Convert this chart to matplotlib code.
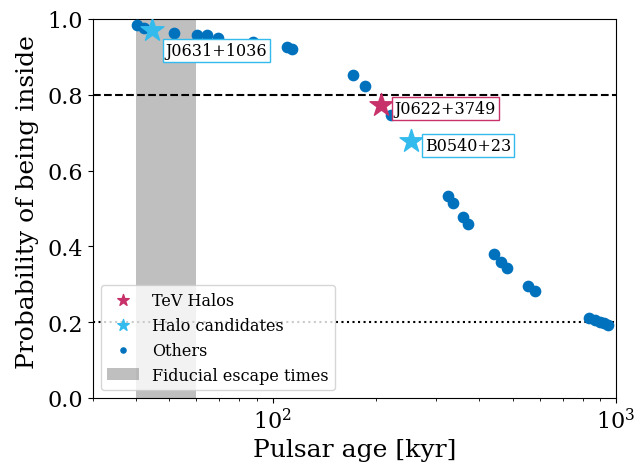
import matplotlib
matplotlib.use("Agg")
import matplotlib.pyplot as plt

plt.rcParams['font.family'] = ['DejaVu Serif']

# Data
others_age = [40.2, 42.2, 51.8, 60.1, 64.6, 69.5, 87.8, 110, 114, 171, 186, 221,
              324, 335, 358, 370, 440, 463, 481, 554, 582, 836, 870, 900, 925, 946]
others_prob = [0.983, 0.976, 0.964, 0.959, 0.957, 0.950, 0.939, 0.925, 0.921, 0.851,
               0.822, 0.747, 0.534, 0.515, 0.477, 0.459, 0.380, 0.358, 0.342, 0.296,
               0.283, 0.212, 0.205, 0.200, 0.197, 0.193]

halo_names = ["J0622+3749"]
halo_age = [207.5]
halo_prob = [0.772]

cand_names = ["J0631+1036", "B0540+23"]
cand_age = [44.5, 252.5]
cand_prob = [0.970, 0.679]

escape_range = [40, 60]
upper_level = 0.8
lower_level = 0.2

c_others = '#0072BD'
c_halo = '#C8326A'
c_cand = '#33BBEE'

fig = plt.figure(figsize=(6.38, 4.64), dpi=100)
ax = fig.add_axes([0.1458, 0.1401, 0.8197, 0.8168])

ax.axvspan(escape_range[0], escape_range[1], color='gray', alpha=0.5, lw=0,
           label='Fiducial escape times', zorder=1)
ax.axhline(upper_level, color='black', ls='--', lw=1.5, zorder=2)
ax.axhline(lower_level, color='black', ls=':', lw=1.5, zorder=2)

ax.scatter(others_age, others_prob, s=55, color=c_others, label='Others', zorder=3)
ax.scatter(halo_age, halo_prob, s=300, marker='*', color=c_halo, label='TeV Halos', zorder=4)
ax.scatter(cand_age, cand_prob, s=300, marker='*', color=c_cand, label='Halo candidates', zorder=4)

offsets = {"J0631+1036": (10, -14.4), "J0622+3749": (9.6, -2), "B0540+23": (10, -3.6)}
for name, a, p in zip(halo_names, halo_age, halo_prob):
    ax.annotate(name, (a, p), xytext=offsets[name], textcoords='offset points',
                fontsize=11.5, va='center', ha='left', zorder=6,
                bbox=dict(boxstyle='square,pad=0.18', fc='white', ec=c_halo, lw=1))
for name, a, p in zip(cand_names, cand_age, cand_prob):
    ax.annotate(name, (a, p), xytext=offsets[name], textcoords='offset points',
                fontsize=11.5, va='center', ha='left', zorder=6,
                bbox=dict(boxstyle='square,pad=0.18', fc='white', ec=c_cand, lw=1))

ax.set_xscale('log')
ax.set_xlim(30, 1000)
ax.set_ylim(0, 1)
ax.set_xlabel('Pulsar age [kyr]', fontsize=18)
ax.set_ylabel('Probability of being inside', fontsize=18)
ax.yaxis.set_label_coords(-0.104, 0.52)
ax.tick_params(labelsize=16)

handles, labels = ax.get_legend_handles_labels()
order = ['TeV Halos', 'Halo candidates', 'Others', 'Fiducial escape times']
hmap = dict(zip(labels, handles))
leg = ax.legend([hmap[o] for o in order], order, loc='lower left', fontsize=11.5,
                markerscale=0.5)
leg.set_zorder(5)

fig.savefig('out.png', dpi=100)
